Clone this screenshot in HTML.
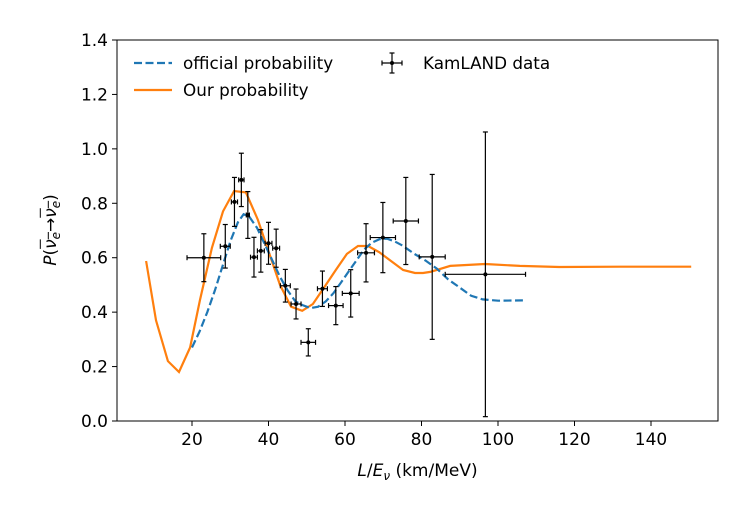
<!DOCTYPE html>
<html><head><meta charset="utf-8"><style>
body{margin:0;background:#fff;font-family:"DejaVu Sans","Liberation Sans",sans-serif}
#wrap{position:relative;width:740px;height:501px}
.ylab{position:absolute;left:52px;top:230px;transform:translate(-50%,-50%) rotate(-90deg);font-size:17px;white-space:nowrap}
.ol{text-decoration:overline}
</style></head><body>
<div id="wrap">
<svg id="svg" width="740" height="501" font-family="DejaVu Sans, Liberation Sans, sans-serif"></svg>
<div class="ylab"><i>P</i>(<span class="ol"><i>ν</i><sub style="font-size:12px"><i>e</i></sub></span>→<span class="ol"><i>ν</i><sub style="font-size:12px"><i>e</i></sub></span>)</div>
</div>
<script>
const xTicks=[20,40,60,80,100,120,140];
const yTicks=[0.0,0.2,0.4,0.6,0.8,1.0,1.2,1.4];
const dataX=[23.1,28.7,31.1,32.9,34.6,36.2,38.0,40.0,42.0,44.4,47.2,50.4,54.1,57.6,61.5,65.5,69.9,75.9,82.8,96.7];
const dataY=[0.60,0.642,0.805,0.886,0.757,0.602,0.625,0.653,0.635,0.497,0.43,0.289,0.486,0.424,0.469,0.618,0.674,0.735,0.603,0.539];
const dataXerr=[4.4,1.3,0.8,0.7,0.4,0.9,0.9,0.9,0.9,1.3,1.3,1.9,1.3,1.9,2.2,2.2,3.3,3.3,3.4,10.5];
const dataYerr=[0.088,0.08,0.09,0.098,0.086,0.073,0.078,0.077,0.07,0.06,0.055,0.05,0.065,0.07,0.087,0.107,0.129,0.16,0.303,0.523];
const offX=[20,22,24,26,28,30,32,33.5,35,37,39,41,43,45,47,49,51,53,55,57,59,61,63,65,67,69,71,73,75,78,81,84,87,90,93,96,100,106.5];
const offY=[0.27,0.33,0.40,0.48,0.57,0.66,0.73,0.76,0.75,0.71,0.65,0.59,0.53,0.48,0.44,0.425,0.415,0.42,0.44,0.47,0.51,0.55,0.59,0.63,0.655,0.668,0.67,0.66,0.645,0.615,0.59,0.56,0.52,0.49,0.46,0.447,0.442,0.443];
const ourX=[8,10.6,13.7,16.6,19.5,22.1,25.2,28.1,31,34.1,37.2,40.1,43,45.9,48.8,51.6,54.5,57.6,60.5,63.4,66,69,72.3,75.2,78.3,80.4,82.3,87.5,96.6,105.7,116,132,150.5];
const ourY=[0.588,0.37,0.22,0.18,0.27,0.445,0.636,0.77,0.845,0.84,0.74,0.62,0.50,0.42,0.405,0.43,0.49,0.555,0.614,0.643,0.643,0.62,0.585,0.555,0.544,0.544,0.548,0.57,0.577,0.57,0.566,0.567,0.567];

const L=117,R=718,T=40,B=421;
const sx=v=>115.5+(v)*3.825;
const sy=v=>B-v*(B-T)/1.4;
const svg=document.getElementById('svg');
const NS='http://www.w3.org/2000/svg';
function mk(t,a,p){const e=document.createElementNS(NS,t);for(const k in a)e.setAttribute(k,a[k]);(p||svg).appendChild(e);return e;}

xTicks.forEach(t=>{
 const l=mk('line',{x1:sx(t),x2:sx(t),y1:B,y2:B+5,stroke:'#000','stroke-width':1});
 
 
 const tx=mk('text',{x:sx(t),y:B+24,'text-anchor':'middle','font-size':17});
 tx.textContent=t;
 
 
});
yTicks.forEach(t=>{
 const l=mk('line',{x1:L-5,x2:L,y1:sy(t),y2:sy(t),stroke:'#000','stroke-width':1});
 
 
 const tx=mk('text',{x:L-9,y:sy(t)+6,'text-anchor':'end','font-size':17});
 tx.textContent=t.toFixed(1);
 
 
});

function path(xs,ys){return xs.map((x,i)=>(i?'L':'M')+sx(x).toFixed(1)+','+sy(ys[i]).toFixed(1)).join('');}
const po=mk('path',{d:path(ourX,ourY),fill:'none',stroke:'#ff7f0e','stroke-width':2.2});


const pb=mk('path',{d:path(offX,offY),fill:'none',stroke:'#1f77b4','stroke-width':2.2,'stroke-dasharray':'8,3.5'});



dataX.forEach((x,i)=>{
 const g=mk('g',{stroke:'#000','stroke-width':1.2});
 
 
 const cx=sx(x),cy=sy(dataY[i]),x1=sx(x-dataXerr[i]),x2=sx(x+dataXerr[i]),y1=sy(dataY[i]+dataYerr[i]),y2=sy(dataY[i]-dataYerr[i]);
 mk('line',{x1:x1,x2:x2,y1:cy,y2:cy},g);
 mk('line',{x1:cx,x2:cx,y1:y1,y2:y2},g);
 mk('line',{x1:x1,x2:x1,y1:cy-2.5,y2:cy+2.5},g);
 mk('line',{x1:x2,x2:x2,y1:cy-2.5,y2:cy+2.5},g);
 mk('line',{x1:cx-2.5,x2:cx+2.5,y1:y1,y2:y1},g);
 mk('line',{x1:cx-2.5,x2:cx+2.5,y1:y2,y2:y2},g);
 mk('circle',{cx:cx,cy:cy,r:2,fill:'#000',stroke:'none'},g);
});

const fr=mk('rect',{x:L,y:T,width:R-L,height:B-T,fill:'none',stroke:'#000','stroke-width':1});



const xl=mk('text',{x:(L+R)/2,y:476,'text-anchor':'middle','font-size':17});
xl.innerHTML='<tspan font-style="italic">L</tspan>/<tspan font-style="italic">E</tspan><tspan font-style="italic" font-size="12" dy="4">ν</tspan><tspan dy="-4"> (km/MeV)</tspan>';



const lg=mk('g',{});


mk('line',{x1:134,x2:172,y1:63,y2:63,stroke:'#1f77b4','stroke-width':2.2,'stroke-dasharray':'8,3.5'},lg);
let t1=mk('text',{x:183,y:69,'font-size':16.8},lg);t1.textContent='official probability';
mk('line',{x1:134,x2:172,y1:90,y2:90,stroke:'#ff7f0e','stroke-width':2.2},lg);
let t2=mk('text',{x:183,y:96,'font-size':16.8},lg);t2.textContent='Our probability';
const kg=mk('g',{stroke:'#000','stroke-width':1.2},lg);
mk('line',{x1:382,x2:402,y1:63,y2:63},kg);
mk('line',{x1:392,x2:392,y1:53,y2:73},kg);
mk('line',{x1:382,x2:382,y1:60.5,y2:65.5},kg);
mk('line',{x1:402,x2:402,y1:60.5,y2:65.5},kg);
mk('line',{x1:389.5,x2:394.5,y1:53,y2:53},kg);
mk('line',{x1:389.5,x2:394.5,y1:73,y2:73},kg);
mk('circle',{cx:392,cy:63,r:2,fill:'#000',stroke:'none'},kg);
let t3=mk('text',{x:423,y:69,'font-size':16.8},lg);t3.textContent='KamLAND data';
</script>
</body></html>
